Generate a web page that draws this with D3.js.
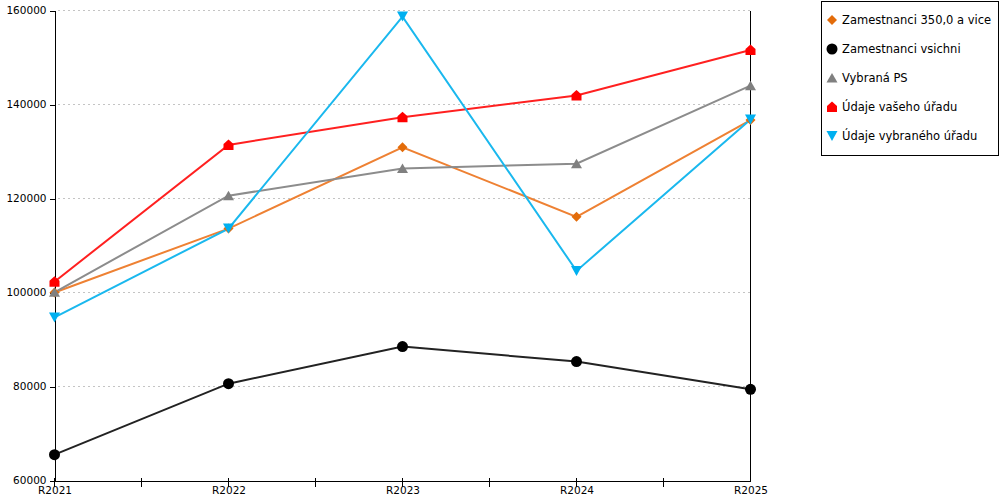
<!DOCTYPE html>
<html>
<head>
<meta charset="utf-8">
<script src="https://cdn.jsdelivr.net/npm/d3@7"></script>
<style>
  body { margin: 0; background: #fff; }
  svg text { font-family: "DejaVu Sans", Verdana, sans-serif; }
</style>
</head>
<body>
<div id="display"></div>
<script>
// chart data
const categories = ["R2021", "R2022", "R2023", "R2024", "R2025"];
const seriesNames = ["Zamestnanci 350,0 a vice", "Zamestnanci vsichni", "Vybraná PS", "Údaje vašeho úřadu", "Údaje vybraného úřadu"];
const zam350 = [100000, 113600, 130900, 116100, 136700];
const zamVsichni = [65500, 80600, 88500, 85300, 79400];
const vybranaPS = [100050, 120600, 126400, 127400, 144000];
const vasUrad = [102300, 131400, 137300, 141900, 151600];
const vybranyUrad = [94700, 113600, 158700, 104600, 136800];
const yTicks = [60000, 80000, 100000, 120000, 140000, 160000];

const width = 1000, height = 500;
const plotLeft = 54.5, plotRight = 750.5, plotTop = 10.5, plotBottom = 480.5;

const series = [
  { name: seriesNames[0], values: zam350, line: "#ee8133", mark: "#e36c0a", shape: "diamond" },
  { name: seriesNames[1], values: zamVsichni, line: "#222222", mark: "#000000", shape: "circle" },
  { name: seriesNames[2], values: vybranaPS, line: "#8c8c8c", mark: "#808080", shape: "triangle" },
  { name: seriesNames[3], values: vasUrad, line: "#ff2020", mark: "#ff0000", shape: "house" },
  { name: seriesNames[4], values: vybranyUrad, line: "#1ab8ee", mark: "#00b0f0", shape: "down" }
];

const shapes = {
  diamond: "M0,-5L5,0L0,5L-5,0Z",
  triangle: "M0,-5L5.5,4.5L-5.5,4.5Z",
  house: "M0,-5.5L5,-1L5,5L-5,5L-5,-1Z",
  down: "M-5.5,-5L5.5,-5L0,5Z"
};

function drawMarker(g, shape, color, x, y) {
  if (shape === "circle") {
    g.append("circle").attr("cx", x).attr("cy", y).attr("r", 5.5).attr("fill", color);
  } else {
    g.append("path").attr("d", shapes[shape])
      .attr("transform", `translate(${x},${y})`).attr("fill", color);
  }
}

const svg = d3.select("#display").append("svg")
  .attr("width", width).attr("height", height);

const x_scale = d3.scalePoint().domain(categories).range([plotLeft, plotRight]);
const y_scale = d3.scaleLinear().domain([60000, 160000]).range([plotBottom, plotTop]);

// grid lines
svg.append("g").attr("shape-rendering", "crispEdges").selectAll("line")
  .data(yTicks.slice(1))
  .join("line")
  .attr("x1", plotLeft + 3).attr("x2", plotRight)
  .attr("y1", d => y_scale(d)).attr("y2", d => y_scale(d))
  .attr("stroke", "#c4c4c4").attr("stroke-dasharray", "2,3");

// y axis
const gY = svg.append("g").attr("transform", `translate(${plotLeft},0)`)
  .call(d3.axisLeft(y_scale).tickValues(yTicks).tickSize(5).tickSizeOuter(0).tickFormat(d3.format("d")));
gY.selectAll("path, line").attr("stroke", "#000").attr("shape-rendering", "crispEdges");
gY.selectAll("text").attr("font-size", 10.5).attr("fill", "#000")
  .attr("font-family", "DejaVu Sans, sans-serif");

// right border line
svg.append("line").attr("x1", plotRight).attr("x2", plotRight).attr("y1", plotTop).attr("y2", plotBottom)
  .attr("stroke", "#000").attr("shape-rendering", "crispEdges");

// x axis
const gX = svg.append("g").attr("transform", `translate(0,${plotBottom})`)
  .call(d3.axisBottom(x_scale).tickSize(0).tickSizeOuter(0).tickPadding(6));
gX.selectAll("path").attr("stroke", "#000").attr("shape-rendering", "crispEdges");
gX.selectAll("text").attr("font-size", 10.5).attr("fill", "#000")
  .attr("font-family", "DejaVu Sans, sans-serif");

// category + midpoint ticks
const step = x_scale.step();
const tickPos = [];
categories.forEach((c, i) => {
  if (i < categories.length - 1) {
    tickPos.push(x_scale(c));
    tickPos.push(x_scale(c) + step / 2);
  }
});
svg.append("g").attr("shape-rendering", "crispEdges").selectAll("line").data(tickPos).join("line")
  .attr("x1", d => Math.round(d - 0.5) + 0.5).attr("x2", d => Math.round(d - 0.5) + 0.5)
  .attr("y1", plotBottom - 3).attr("y2", plotBottom + 6)
  .attr("stroke", "#000");

// lines
const line = d3.line().x((d, i) => x_scale(categories[i])).y(d => y_scale(d));
series.forEach(s => {
  svg.append("path").attr("d", line(s.values))
    .attr("fill", "none").attr("stroke", s.line).attr("stroke-width", 2);
});

// markers
series.forEach(s => {
  const g = svg.append("g");
  s.values.forEach((v, i) => drawMarker(g, s.shape, s.mark, x_scale(categories[i]), y_scale(v)));
});

// legend
const legend = svg.append("g");
legend.append("rect").attr("x", 821.5).attr("y", 1.5).attr("width", 177).attr("height", 153.5)
  .attr("fill", "#fff").attr("stroke", "#000").attr("shape-rendering", "crispEdges");
series.forEach((s, i) => {
  const cy = 20 + i * 29;
  drawMarker(legend, s.shape, s.mark, 832, cy);
  legend.append("text").attr("x", 842).attr("y", cy).attr("dy", "0.35em")
    .attr("font-size", 11.5).attr("fill", "#000").text(s.name);
});
</script>
</body>
</html>
